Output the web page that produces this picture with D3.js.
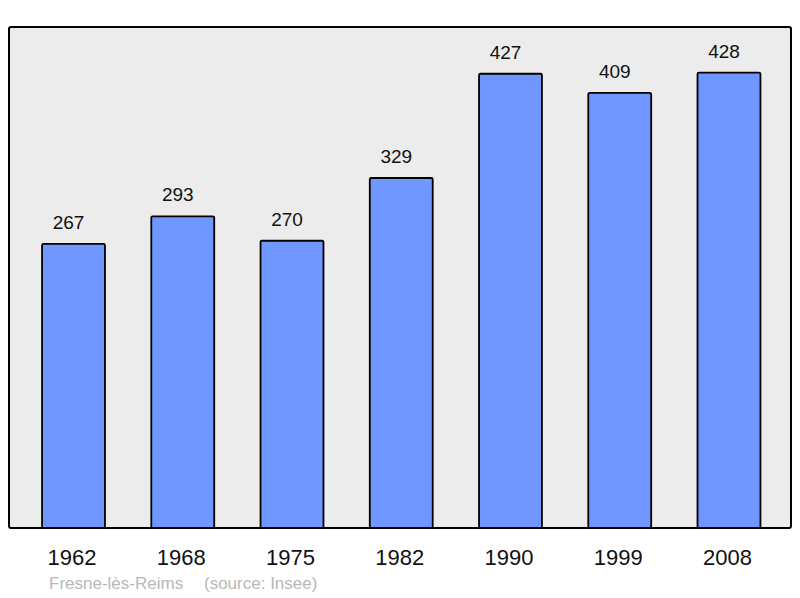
<!DOCTYPE html>
<html>
<head>
<meta charset="utf-8">
<script src="https://cdn.jsdelivr.net/npm/d3@7"></script>
<style>
  body { margin: 0; background: #fff; }
  text { font-family: "Liberation Sans", Arial, sans-serif; }
</style>
</head>
<body>
<script>
var years = ["1962", "1968", "1975", "1982", "1990", "1999", "2008"];
var population = [267, 293, 270, 329, 427, 409, 428];
var commune = "Fresne-lès-Reims";
var source = "(source: Insee)";

var width = 800, height = 598;
var panel = {left: 9, top: 27, right: 791, bottom: 528};

var svg = d3.select("body").append("svg")
    .attr("width", width)
    .attr("height", height);

svg.append("rect")
    .attr("x", panel.left)
    .attr("y", panel.top)
    .attr("width", panel.right - panel.left)
    .attr("height", panel.bottom - panel.top)
    .attr("rx", 2)
    .attr("fill", "#ececec")
    .attr("stroke", "#000")
    .attr("stroke-width", 2);

var x = d3.scaleBand()
    .domain(years)
    .range([18.9, 783.6])
    .paddingInner(0.424)
    .paddingOuter(0.212);

var y = d3.scaleLinear()
    .domain([0, 470])
    .range([panel.bottom, panel.bottom - 500]);

var bar = svg.selectAll(".bar")
    .data(years)
  .enter().append("g")
    .attr("class", "bar");

bar.append("rect")
    .attr("x", function(d) { return x(d); })
    .attr("y", function(d, i) { return y(population[i]); })
    .attr("width", x.bandwidth())
    .attr("height", function(d, i) { return panel.bottom - y(population[i]); })
    .attr("rx", 1.5)
    .attr("fill", "#7096ff")
    .attr("stroke", "#000")
    .attr("stroke-width", 1.8);

// value labels sit a little left of the bar centre, as in the original
bar.append("text")
    .attr("x", function(d) { return x(d) + x.bandwidth() / 2 - 5; })
    .attr("y", function(d, i) { return y(population[i]) - 15; })
    .attr("text-anchor", "middle")
    .attr("font-size", 19)
    .attr("fill", "#111")
    .text(function(d, i) { return population[i]; });

// year labels under the panel
svg.append("g")
    .attr("transform", "translate(0," + panel.bottom + ")")
    .call(d3.axisBottom(x).tickSize(0).tickPadding(0))
    .call(function(g) { g.select(".domain").remove(); })
    .selectAll("text")
    .attr("dy", null)
    .attr("y", 37)
    .attr("x", -1.5)
    .attr("font-size", 22)
    .attr("font-family", "Liberation Sans, Arial, sans-serif")
    .attr("fill", "#111");

svg.append("text")
    .attr("x", 49)
    .attr("y", 589)
    .attr("font-size", 17)
    .attr("fill", "#b8b8b8")
    .text(commune);

svg.append("text")
    .attr("x", 204)
    .attr("y", 589)
    .attr("font-size", 17)
    .attr("fill", "#b8b8b8")
    .text(source);
</script>
</body>
</html>
